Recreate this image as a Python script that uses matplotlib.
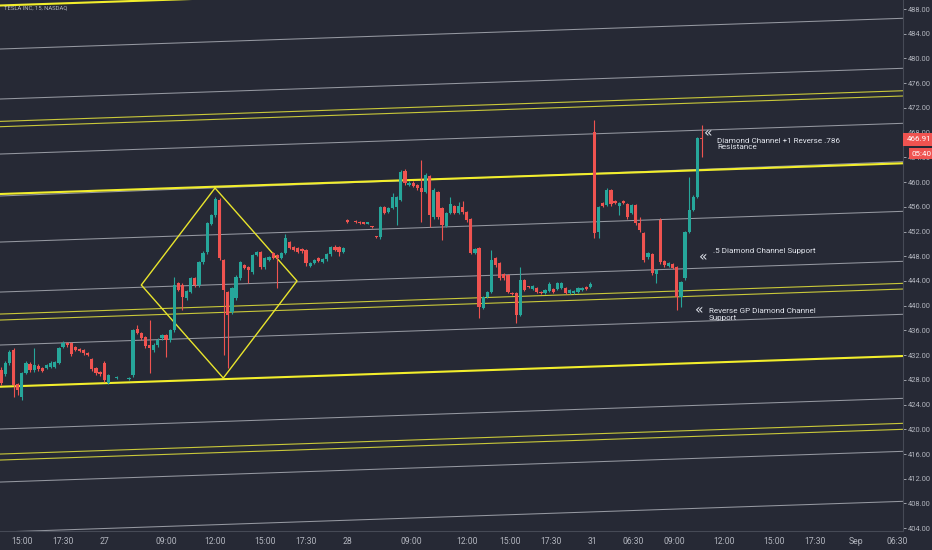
import matplotlib
matplotlib.use('Agg')
import matplotlib.pyplot as plt
import matplotlib.transforms as mtransforms
import numpy as np

#%%
# candle data (15 min bars), bar index on x
bar_idx = [0, 1, 2, 3, 4, 5, 6, 7, 8, 9, 10, 11, 12, 13, 14, 15, 16, 17, 18, 19,
           20, 21, 22, 23, 24, 25, 26, 28, 31, 32, 33, 34, 35, 36, 37, 38, 39, 40, 41, 42,
           43, 44, 45, 46, 47, 48, 49, 50, 51, 52, 53, 54, 55, 56, 57, 58, 59, 60, 61, 62,
           63, 64, 65, 66, 67, 68, 69, 70, 71, 72, 73, 74, 75, 76, 77, 78, 79, 80, 81, 82,
           83, 84, 86, 87, 88, 89, 90, 91, 92, 93, 94, 95, 96, 97, 98, 99, 100, 101, 102, 103,
           104, 105, 106, 107, 108, 109, 110, 111, 112, 113, 114, 115, 116, 117, 118, 119, 120, 121, 122, 123,
           124, 125, 126, 127, 128, 129, 130, 131, 132, 133, 134, 135, 136, 137, 138, 139, 140, 141, 142, 143,
           144, 145, 146, 147, 148, 149, 150, 151, 152, 153, 154, 155, 156, 157, 158, 159, 160, 161, 162, 163,
           164, 165, 166, 167, 168, 169, 170]

opens = [429.59, 428.95, 430.73, 432.83, 427.33, 425.23, 429.11, 430.56, 429.59, 430.24,
         429.92, 429.92, 430.08, 430.08, 430.73, 433.32, 433.96, 433.96, 433.32, 433.00,
         432.83, 432.34, 431.37, 429.92, 429.27, 430.73, 427.49, 428.30, 428.14, 428.78,
         436.23, 435.58, 434.93, 433.64, 432.83, 433.64, 434.77, 435.26, 434.45, 436.07,
         443.67, 443.35, 441.24, 442.21, 444.48, 443.35, 447.07, 448.69, 453.22, 454.67,
         457.10, 447.39, 442.21, 438.98, 441.24, 444.48, 446.58, 446.26, 445.45, 448.20,
         448.69, 446.26, 447.39, 448.52, 448.20, 447.72, 448.52, 450.30, 449.49, 449.33,
         449.17, 449.01, 446.42, 446.91, 447.72, 447.07, 447.55, 448.36, 449.49, 449.49,
         448.69, 453.86, 453.70, 453.54, 453.38, 453.30, 452.80, 451.20, 451.11, 455.97,
         455.16, 455.81, 455.97, 457.10, 461.79, 459.53, 459.85, 459.53, 459.04, 458.39,
         460.98, 454.35, 458.39, 455.81, 452.89, 455.00, 456.13, 455.00, 455.97, 455.16,
         454.02, 448.52, 449.33, 439.63, 441.41, 442.21, 447.72, 446.91, 445.13, 444.96,
         442.05, 442.05, 438.49, 444.16, 443.02, 442.70, 442.86, 442.21, 442.05, 442.38,
         442.70, 442.70, 442.86, 442.86, 442.05, 442.05, 442.21, 442.54, 443.02, 443.02,
         468.10, 451.92, 456.61, 456.29, 458.72, 456.94, 456.13, 456.94, 456.45, 455.00,
         456.29, 453.38, 451.76, 447.88, 448.36, 445.13, 453.86, 447.23, 446.42, 446.74,
         446.26, 441.41, 444.48, 451.92, 455.48, 457.58, 467.13]

highs = [430.08, 431.00, 432.83, 433.15, 427.50, 429.30, 431.00, 430.90, 433.15, 430.50,
         430.10, 430.60, 431.00, 431.10, 433.40, 434.30, 434.20, 434.10, 433.50, 433.20,
         433.00, 432.50, 431.60, 430.10, 429.40, 431.00, 429.00, 428.60, 428.40, 436.30,
         436.87, 435.80, 435.10, 437.68, 433.90, 434.70, 435.50, 435.50, 436.30, 444.64,
         443.90, 443.60, 442.60, 444.70, 444.70, 447.30, 448.80, 453.60, 454.90, 457.58,
         457.40, 447.60, 442.40, 443.10, 444.90, 447.30, 446.80, 446.50, 448.40, 448.90,
         448.90, 447.90, 448.10, 448.70, 448.40, 448.70, 451.60, 450.50, 449.70, 449.50,
         449.30, 449.20, 447.10, 447.60, 447.90, 447.70, 448.50, 449.70, 449.90, 449.70,
         449.50, 454.00, 453.90, 453.70, 453.50, 453.50, 452.95, 451.30, 456.20, 456.20,
         456.00, 458.20, 457.80, 461.90, 462.10, 460.10, 460.10, 459.70, 463.57, 461.40,
         461.20, 459.00, 458.60, 456.00, 455.20, 457.60, 456.30, 456.80, 457.00, 455.40,
         454.20, 449.40, 449.50, 441.60, 442.40, 449.00, 447.90, 447.10, 445.30, 445.20,
         442.20, 442.20, 446.26, 444.40, 443.20, 443.40, 443.00, 442.40, 442.70, 443.80,
         442.90, 443.90, 443.90, 443.00, 442.70, 442.50, 443.00, 443.00, 443.20, 443.80,
         470.04, 456.20, 456.80, 459.00, 458.90, 457.10, 456.80, 457.10, 456.60, 456.50,
         456.50, 454.35, 452.00, 448.70, 448.60, 446.00, 454.19, 447.40, 447.10, 446.90,
         446.40, 444.00, 452.10, 460.80, 457.90, 467.30, 469.24]

lows = [427.17, 428.60, 430.40, 425.23, 425.60, 424.74, 428.90, 429.30, 429.30, 429.50,
        429.20, 429.70, 429.90, 429.90, 430.50, 433.10, 433.40, 431.90, 432.60, 432.50,
        432.10, 431.80, 429.50, 428.80, 428.70, 427.70, 427.30, 428.20, 428.00, 428.50,
        435.40, 434.50, 433.20, 429.11, 432.50, 433.40, 434.50, 431.70, 434.20, 435.80,
        442.30, 439.30, 441.00, 442.00, 443.10, 443.10, 446.80, 448.40, 453.00, 454.40,
        447.40, 432.02, 429.92, 438.70, 441.00, 444.20, 445.90, 443.67, 445.20, 448.00,
        446.00, 446.00, 447.20, 447.50, 442.86, 447.50, 448.30, 449.10, 448.80, 448.50,
        448.60, 446.40, 446.20, 446.70, 447.00, 446.90, 447.30, 448.10, 448.80, 448.00,
        448.50, 453.40, 453.40, 453.20, 453.20, 453.20, 452.60, 451.00, 450.80, 454.80,
        455.00, 455.60, 453.06, 456.90, 459.60, 459.30, 459.20, 458.80, 453.54, 458.20,
        452.73, 454.10, 454.10, 450.63, 452.70, 454.80, 454.80, 454.80, 454.90, 453.60,
        448.30, 448.30, 438.01, 439.40, 441.20, 442.00, 446.30, 444.20, 444.20, 442.00,
        441.70, 437.20, 438.30, 442.30, 442.80, 442.50, 442.00, 441.90, 441.90, 442.20,
        442.00, 442.50, 442.70, 441.90, 441.90, 441.90, 442.00, 442.40, 442.50, 442.90,
        450.95, 450.95, 455.90, 456.10, 456.20, 456.40, 454.67, 456.40, 454.10, 454.80,
        453.10, 452.00, 447.10, 447.60, 445.00, 443.67, 446.80, 446.30, 446.20, 445.90,
        439.30, 439.79, 444.20, 451.70, 455.30, 457.40, 464.00]

closes = [427.49, 430.73, 432.51, 427.17, 426.36, 429.11, 430.73, 429.59, 430.40, 429.76,
          429.43, 430.40, 430.73, 430.89, 433.15, 433.96, 433.64, 432.18, 432.83, 432.67,
          432.34, 432.02, 429.76, 429.11, 428.95, 427.98, 428.78, 428.46, 428.30, 436.07,
          435.58, 434.77, 433.48, 433.15, 433.64, 434.45, 435.26, 434.45, 436.07, 443.35,
          442.54, 441.41, 442.38, 444.48, 443.35, 447.07, 448.52, 453.38, 454.67, 457.26,
          447.72, 442.54, 438.49, 442.86, 444.64, 447.07, 446.10, 445.77, 448.20, 448.69,
          446.26, 447.72, 447.88, 447.72, 447.72, 448.52, 450.95, 449.33, 449.01, 448.69,
          448.85, 446.91, 446.91, 447.39, 447.23, 447.55, 448.36, 449.49, 449.01, 448.69,
          449.33, 453.54, 453.54, 453.38, 453.30, 453.38, 452.73, 451.11, 455.97, 455.00,
          455.81, 457.58, 457.58, 461.63, 459.85, 459.85, 459.37, 459.04, 458.39, 461.14,
          454.67, 458.72, 454.35, 453.06, 455.00, 456.45, 455.00, 456.13, 455.16, 453.86,
          448.52, 449.17, 439.79, 441.41, 442.21, 447.39, 446.58, 444.48, 444.48, 442.21,
          441.89, 438.49, 444.16, 442.54, 442.95, 443.18, 442.21, 442.05, 442.54, 443.51,
          442.21, 443.67, 443.67, 442.05, 442.54, 442.38, 442.86, 442.86, 442.70, 443.51,
          451.76, 455.97, 456.13, 458.72, 456.45, 456.61, 456.61, 456.61, 454.35, 456.29,
          453.38, 452.25, 447.39, 448.52, 445.29, 445.77, 447.07, 446.58, 446.91, 446.10,
          441.41, 443.83, 451.92, 455.48, 457.58, 467.13, 466.91]

last_price = 466.91
countdown = '05:40'

# channel lines drawn on the chart: price at left edge, price at right edge
gray_start = [481.53, 473.44, 464.54, 457.75, 450.30, 442.21, 433.64, 420.05, 411.47, 403.38]
gray_end = [486.50, 478.41, 469.51, 463.30, 455.27, 447.18, 438.61, 425.01, 416.44, 408.35]
yellow_thin_start = [469.82, 468.96, 438.65, 437.68, 416.00, 415.03]
yellow_thin_end = [474.78, 473.93, 443.62, 442.70, 420.97, 420.00]
yellow_bold_start = [488.57, 458.07, 426.89]
yellow_bold_end = [493.54, 463.04, 431.86]

# diamond pattern (bar, price): top, right, bottom, left
diamond_x = [51.9, 71.8, 53.9, 34.0, 51.9]
diamond_y = [459.04, 444.00, 428.30, 443.35, 459.04]

# axes labels
x_tick_pos = [5, 15, 25, 40, 52, 64, 74, 84, 99.5, 113, 123.5, 133.5, 143.5, 153.5,
              163.5, 175.5, 187.5, 197.5, 207.5, 217.5]
x_tick_labels = ['15:00', '17:30', '27', '09:00', '12:00', '15:00', '17:30', '28', '09:00',
                 '12:00', '15:00', '17:30', '31', '06:30', '09:00', '12:00', '15:00',
                 '17:30', 'Sep', '06:30']
y_ticks = np.arange(404, 489, 4)

#%%
bg = '#262935'
up_col = '#26a69a'
down_col = '#ef5350'
txt_col = '#b2b5be'

plt.rcParams['font.family'] = ['Roboto', 'DejaVu Sans']

fig = plt.figure(figsize=(9.32, 5.5), dpi=100)
fig.patch.set_facecolor(bg)
ax = fig.add_axes([0, 19 / 550, 903 / 932, 531 / 550])
ax.set_facecolor(bg)

x_left, x_right = -0.3, 218.9
ax.set_xlim(x_left, x_right)
ax.set_ylim(403.55, 489.46)

# channel lines
for s, e in zip(gray_start, gray_end):
    ax.plot([x_left, x_right], [s, e], color='#9598a1', lw=0.75, zorder=1)
for s, e in zip(yellow_thin_start, yellow_thin_end):
    ax.plot([x_left, x_right], [s, e], color='#c9c83a', lw=0.8, zorder=1)
for s, e in zip(yellow_bold_start, yellow_bold_end):
    ax.plot([x_left, x_right], [s, e], color='#f2ee2c', lw=1.5, zorder=1)

ax.plot(diamond_x, diamond_y, color='#e9e52c', lw=1.0, zorder=1)

# candles
o = np.array(opens)
c = np.array(closes)
cols = np.where(c >= o, up_col, down_col)
ax.vlines(bar_idx, lows, highs, colors=cols, lw=0.8, zorder=3)
body_h = np.maximum(np.abs(c - o), 0.18)
body_b = np.minimum(o, c)
ax.bar(bar_idx, body_h, bottom=body_b, width=0.78, color=cols, linewidth=0, zorder=4)

# annotations
ann_col = '#e0e3eb'
ax.text(171.6, 467.9, '\u00ab', color=ann_col, fontsize=10, ha='center', va='center',
        family=['DejaVu Sans'])
ax.text(173.8, 466.2, 'Diamond Channel +1 Reverse .786\nResistance', color=ann_col,
        fontsize=5.9, ha='left', va='center', linespacing=1.1)
ax.text(170.4, 447.9, '\u00ab', color=ann_col, fontsize=10, ha='center', va='center',
        family=['DejaVu Sans'])
ax.text(172.8, 448.85, '.5 Diamond Channel Support', color=ann_col, fontsize=5.9,
        ha='left', va='center')
ax.text(169.4, 439.3, '\u00ab', color=ann_col, fontsize=10, ha='center', va='center',
        family=['DejaVu Sans'])
ax.text(171.8, 438.55, 'Reverse GP Diamond Channel\nSupport', color=ann_col,
        fontsize=5.9, ha='left', va='center', linespacing=1.1)

# axes styling
for side in ['top', 'left']:
    ax.spines[side].set_visible(False)
for side in ['right', 'bottom']:
    ax.spines[side].set_color('#464a56')
    ax.spines[side].set_linewidth(0.8)

ax.set_xticks(x_tick_pos)
ax.set_xticklabels(x_tick_labels)
ax.set_yticks(y_ticks)
ax.set_yticklabels(['%.2f' % v for v in y_ticks])
ax.yaxis.tick_right()
ax.tick_params(axis='x', length=0, pad=4, labelsize=6.2, colors=txt_col)
ax.tick_params(axis='y', length=2, width=0.6, pad=1.5, labelsize=5.4, colors=txt_col)

# last price and countdown tags on the price scale
trans = mtransforms.blended_transform_factory(ax.transAxes, ax.transData)
ax.text(1.004, last_price, '466.91', transform=trans, color='white', fontsize=5.8,
        ha='left', va='center', clip_on=False, zorder=10,
        bbox=dict(boxstyle='square,pad=0.4', fc=down_col, ec='none'))
ax.text(1.009, 464.6, countdown, transform=trans, color='white', fontsize=5.8,
        ha='left', va='center', clip_on=False, zorder=10,
        bbox=dict(boxstyle='square,pad=0.3', fc=down_col, ec='none'))

# symbol title
fig.text(0.004, 0.985, 'TESLA INC, 15, NASDAQ', color=txt_col, fontsize=4.2,
         ha='left', va='center')

plt.savefig('out.png', dpi=100, facecolor=bg)
